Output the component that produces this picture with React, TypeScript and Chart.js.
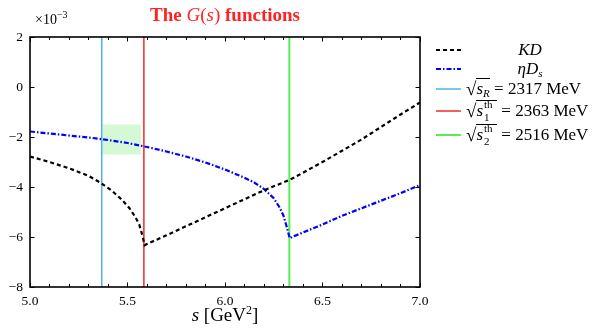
import React, { useEffect, useRef } from "react";
import { Chart, registerables } from "chart.js";
Chart.register(...registerables);

// s values in GeV^2, G values in units of 1e-3
const kdS = [5.0, 5.1, 5.2, 5.3, 5.36, 5.42, 5.47, 5.51, 5.54, 5.56, 5.575, 5.588, 5.6, 5.7, 5.8, 5.9, 6.0, 6.1, 6.2, 6.33, 6.4, 6.5, 6.6, 6.7, 6.8, 6.9, 7.0];
const kdG = [-2.78, -3.0, -3.25, -3.55, -3.82, -4.15, -4.5, -4.85, -5.2, -5.5, -5.9, -6.33, -6.28, -5.93, -5.57, -5.21, -4.85, -4.49, -4.13, -3.72, -3.43, -3.0, -2.55, -2.1, -1.6, -1.1, -0.62];

const etaS = [5.0, 5.1, 5.2, 5.3, 5.4, 5.5, 5.6, 5.7, 5.8, 5.9, 6.0, 6.1, 6.15, 6.2, 6.25, 6.28, 6.3, 6.315, 6.325, 6.332, 6.35, 6.4, 6.5, 6.6, 6.7, 6.8, 6.9, 7.0];
const etaG = [-1.78, -1.86, -1.94, -2.02, -2.12, -2.24, -2.4, -2.58, -2.78, -3.02, -3.3, -3.63, -3.82, -4.08, -4.45, -4.82, -5.15, -5.55, -5.85, -6.05, -5.98, -5.82, -5.5, -5.15, -4.85, -4.55, -4.25, -3.92];

const thresholdS = [5.368, 5.584, 6.33]; // sqrt(s_R)=2317, sqrt(s1th)=2363, sqrt(s2th)=2516 MeV
const boxS = [5.37, 5.57];
const boxG = [-1.5, -2.7];

const xTicks = [5.0, 5.5, 6.0, 6.5, 7.0];
const xMinorStep = 0.1;
const yTicks = [2, 0, -2, -4, -6, -8];

const serif = "'Liberation Serif', 'DejaVu Serif', serif";

const toPts = (xs: number[], ys: number[]) => xs.map((x, i) => ({ x, y: ys[i] }));

const frameTicks = {
  id: "frameTicks",
  afterDraw(chart: any) {
    const { ctx, chartArea: a, scales } = chart;
    const xs = scales.x, ys = scales.y;
    ctx.save();
    ctx.strokeStyle = "#000";
    ctx.lineWidth = 1;
    for (let v = 5.0; v <= 7.0001; v += xMinorStep) {
      const px = Math.round(xs.getPixelForValue(v)) + 0.5;
      const major = xTicks.some((t) => Math.abs(t - v) < 1e-6);
      const len = major ? 4.5 : 3;
      ctx.beginPath();
      ctx.moveTo(px, a.bottom);
      ctx.lineTo(px, a.bottom - len);
      ctx.moveTo(px, a.top);
      ctx.lineTo(px, a.top + len);
      ctx.stroke();
    }
    for (const v of yTicks) {
      const py = Math.round(ys.getPixelForValue(v)) + 0.5;
      ctx.beginPath();
      ctx.moveTo(a.left, py);
      ctx.lineTo(a.left + 4.5, py);
      ctx.moveTo(a.right, py);
      ctx.lineTo(a.right - 4.5, py);
      ctx.stroke();
    }
    ctx.lineWidth = 1.6;
    ctx.strokeRect(a.left, a.top, a.right - a.left, a.bottom - a.top);
    ctx.restore();
  },
};

const SupSub = ({ sup, sub }: { sup: string; sub: string }) => (
  <span style={{ display: "inline-block", position: "relative", width: 14, height: 15, verticalAlign: "-1px" }}>
    <span style={{ position: "absolute", left: 1, top: -6, fontSize: 11, fontStyle: "normal" }}>{sup}</span>
    <span style={{ position: "absolute", left: 1, top: 7, fontSize: 11, fontStyle: "normal" }}>{sub}</span>
  </span>
);

const Sqrt = ({ children }: { children: any }) => (
  <span style={{ whiteSpace: "nowrap" }}>
    <span style={{ fontSize: 19, verticalAlign: "-1px" }}>√</span>
    <span style={{ borderTop: "1px solid #000", paddingTop: 1, display: "inline-block", lineHeight: "17px" }}>{children}</span>
  </span>
);

export default function App() {
  const ref = useRef<HTMLCanvasElement>(null);
  useEffect(() => {
    const cv = ref.current!;
    const chart = new Chart(cv, {
      type: "line",
      data: {
        datasets: [
          { data: toPts(kdS, kdG), borderColor: "#000", borderWidth: 2.2, borderDash: [4, 3], pointRadius: 0, tension: 0, fill: false },
          { data: toPts(etaS, etaG), borderColor: "#0000ff", borderWidth: 2.2, borderDash: [5, 2, 1.5, 2], pointRadius: 0, tension: 0, fill: false },
          { data: [{ x: thresholdS[0], y: -8 }, { x: thresholdS[0], y: 2 }], borderColor: "#4db6e6", borderWidth: 1.5, pointRadius: 0, fill: false },
          { data: [{ x: thresholdS[1], y: -8 }, { x: thresholdS[1], y: 2 }], borderColor: "#ee2b2b", borderWidth: 1.5, pointRadius: 0, fill: false },
          { data: [{ x: thresholdS[2], y: -8 }, { x: thresholdS[2], y: 2 }], borderColor: "#55ee55", borderWidth: 2, pointRadius: 0, fill: false },
          { data: [{ x: boxS[0], y: boxG[0] }, { x: boxS[1], y: boxG[0] }], borderWidth: 0, borderColor: "rgba(0,0,0,0)", pointRadius: 0, fill: "+1", backgroundColor: "#d5f8d5" },
          { data: [{ x: boxS[0], y: boxG[1] }, { x: boxS[1], y: boxG[1] }], borderWidth: 0, borderColor: "rgba(0,0,0,0)", pointRadius: 0, fill: false },
        ],
      },
      options: {
        responsive: false,
        animation: false,
        devicePixelRatio: 1,
        layout: { padding: { left: 0, right: 175, top: 37, bottom: 0 } },
        plugins: { legend: { display: false }, tooltip: { enabled: false }, title: { display: false } },
        scales: {
          x: {
            type: "linear",
            min: 5,
            max: 7,
            grid: { display: false, drawTicks: false },
            border: { display: false },
            afterFit: (s: any) => { s.height = 47; },
            afterBuildTicks: (s: any) => { s.ticks = xTicks.map((v) => ({ value: v })); },
            ticks: { padding: 6, color: "#000", font: { family: serif, size: 13.5 }, callback: (v: any) => Number(v).toFixed(1), autoSkip: false, maxRotation: 0 },
          },
          y: {
            type: "linear",
            min: -8,
            max: 2,
            grid: { display: false, drawTicks: false },
            border: { display: false },
            afterFit: (s: any) => { s.width = 30; },
            afterBuildTicks: (s: any) => { s.ticks = yTicks.map((v) => ({ value: v })); },
            ticks: { padding: 7, color: "#000", font: { family: serif, size: 13.5 }, callback: (v: any) => (Number(v) < 0 ? "\u2212" + Math.abs(Number(v)) : String(v)) },
          },
        },
      },
      plugins: [frameTicks],
    } as any);
    return () => chart.destroy();
  }, []);

  const lineSample = (color: string, dash?: string, w = 2) => (
    <svg width={25} height={6} style={{ position: "absolute", left: 436, top: -3 }}>
      <line x1={0} y1={3} x2={25} y2={3} stroke={color} strokeWidth={w} strokeDasharray={dash} />
    </svg>
  );

  const row = (top: number, sample: any, content: any, centered = false) => (
    <div style={{ position: "absolute", left: 0, top, width: 595, height: 0 }}>
      {sample}
      <div
        style={{
          position: "absolute",
          left: 466,
          width: centered ? 128 : undefined,
          textAlign: centered ? "center" : "left",
          top: -11,
          fontFamily: serif,
          fontSize: 17,
          lineHeight: "22px",
          whiteSpace: "nowrap",
          color: "#000",
        }}
      >
        {content}
      </div>
    </div>
  );

  return (
    <div style={{ position: "absolute", left: 0, top: 0, width: 595, height: 334, background: "#fff", overflow: "hidden" }}>
      <canvas ref={ref} width={595} height={334} style={{ position: "absolute", left: 0, top: 0, width: 595, height: 334 }} />
      <div style={{ position: "absolute", left: 100, top: 4, width: 250, textAlign: "center", fontFamily: serif, fontSize: 19, fontWeight: "bold", color: "#ff2222" }}>
        The <span style={{ fontStyle: "italic", fontWeight: "normal" }}>G</span><span style={{ fontWeight: "normal" }}>(</span><span style={{ fontStyle: "italic", fontWeight: "normal" }}>s</span><span style={{ fontWeight: "normal" }}>)</span> functions
      </div>
      <div style={{ position: "absolute", left: 35, top: 12, fontFamily: serif, fontSize: 14, color: "#000" }}>
        ×10<sup style={{ fontSize: 10, verticalAlign: "6px", lineHeight: 0 }}>−3</sup>
      </div>
      <div style={{ position: "absolute", left: 125, width: 200, top: 304, textAlign: "center", fontFamily: serif, fontSize: 19, color: "#000" }}>
        <i>s</i> [GeV<sup style={{ fontSize: 12, verticalAlign: "7px", lineHeight: 0 }}>2</sup>]
      </div>
      {row(50, lineSample("#000", "4 3", 2.2), <i>KD</i>, true)}
      {row(69, lineSample("#0000ff", "5 2 1.5 2", 2.2), <span><i>ηD</i><sub style={{ fontSize: 11, fontStyle: "italic", verticalAlign: "-3px", lineHeight: 0 }}>s</sub></span>, true)}
      {row(89, lineSample("#4db6e6", undefined, 1.5), <span><Sqrt><i>s</i><sub style={{ fontSize: 11, fontStyle: "italic", verticalAlign: "-3px", lineHeight: 0 }}>R</sub></Sqrt> = 2317 MeV</span>)}
      {row(111, lineSample("#ee2b2b", undefined, 1.5), <span><Sqrt><i>s</i><SupSub sup="th" sub="1" /></Sqrt> = 2363 MeV</span>)}
      {row(135, lineSample("#55ee55", undefined, 2), <span><Sqrt><i>s</i><SupSub sup="th" sub="2" /></Sqrt> = 2516 MeV</span>)}
    </div>
  );
}
